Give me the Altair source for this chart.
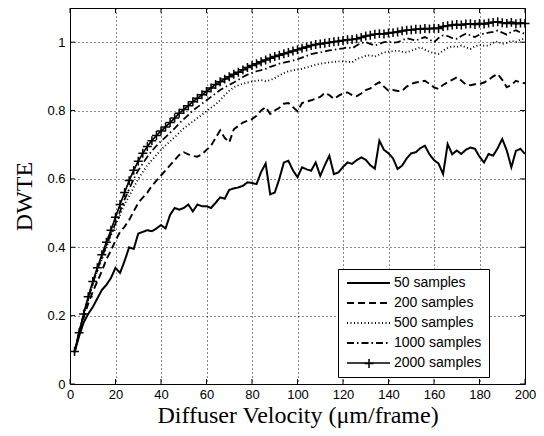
import altair as alt
import pandas as pd

velocity = list(range(2, 201, 2))

s50 = [0.092, 0.14, 0.18, 0.205, 0.225, 0.25, 0.275, 0.29, 0.31, 0.34,
       0.325, 0.36, 0.40, 0.395, 0.44, 0.445, 0.45, 0.447, 0.455, 0.465,
       0.455, 0.495, 0.515, 0.51, 0.515, 0.525, 0.505, 0.525, 0.52, 0.52,
       0.515, 0.53, 0.546, 0.542, 0.568, 0.572, 0.575, 0.58, 0.59, 0.588,
       0.585, 0.62, 0.645, 0.555, 0.56, 0.60, 0.648, 0.653, 0.625, 0.605,
       0.634, 0.628, 0.624, 0.648, 0.609, 0.64, 0.668, 0.614, 0.619, 0.635,
       0.648, 0.644, 0.655, 0.663, 0.656, 0.64, 0.63, 0.712, 0.685, 0.675,
       0.66, 0.629, 0.639, 0.66, 0.675, 0.678, 0.69, 0.697, 0.672, 0.655,
       0.645, 0.614, 0.702, 0.672, 0.683, 0.673, 0.685, 0.692, 0.688, 0.665,
       0.648, 0.673, 0.668, 0.69, 0.717, 0.683, 0.634, 0.682, 0.688, 0.673]

s200 = [0.095, 0.15, 0.195, 0.235, 0.27, 0.30, 0.33, 0.365, 0.39, 0.42,
        0.445, 0.46, 0.48, 0.505, 0.53, 0.545, 0.56, 0.58, 0.595, 0.61,
        0.625, 0.64, 0.655, 0.67, 0.678, 0.672, 0.667, 0.665, 0.672, 0.685,
        0.697, 0.72, 0.742, 0.72, 0.707, 0.745, 0.755, 0.765, 0.77, 0.775,
        0.785, 0.80, 0.81, 0.79, 0.80, 0.808, 0.82, 0.822, 0.81, 0.798,
        0.822, 0.826, 0.83, 0.835, 0.84, 0.852, 0.845, 0.834, 0.843, 0.85,
        0.853, 0.845, 0.842, 0.85, 0.86, 0.865, 0.875, 0.883, 0.87, 0.858,
        0.86, 0.857, 0.858, 0.87, 0.878, 0.882, 0.884, 0.887, 0.878, 0.868,
        0.863, 0.875, 0.883, 0.89, 0.897, 0.888, 0.876, 0.874, 0.877, 0.878,
        0.882, 0.89, 0.90, 0.907, 0.89, 0.868, 0.875, 0.887, 0.882, 0.88]

s500 = [0.095, 0.15, 0.20, 0.25, 0.29, 0.33, 0.365, 0.40, 0.435, 0.465,
        0.495, 0.525, 0.55, 0.575, 0.60, 0.62, 0.64, 0.655, 0.67, 0.685,
        0.698, 0.71, 0.722, 0.735, 0.748, 0.758, 0.768, 0.778, 0.788, 0.798,
        0.808, 0.818, 0.83, 0.845, 0.858, 0.868, 0.874, 0.878, 0.882, 0.885,
        0.887, 0.889, 0.886, 0.889, 0.895, 0.903, 0.91, 0.915, 0.918, 0.92,
        0.922, 0.926, 0.93, 0.934, 0.937, 0.939, 0.941, 0.942, 0.944, 0.944,
        0.943, 0.941, 0.951, 0.955, 0.96, 0.962, 0.958, 0.964, 0.97, 0.972,
        0.974, 0.975, 0.972, 0.97, 0.975, 0.98, 0.985, 0.978, 0.972, 0.968,
        0.966, 0.975, 0.983, 0.988, 0.986, 0.99, 0.985, 0.98, 0.988, 0.992,
        0.99, 0.99, 0.998, 1.002, 0.995, 0.998, 1.004, 1.0, 1.008, 1.01]

s1000 = [0.095, 0.15, 0.205, 0.25, 0.295, 0.335, 0.37, 0.405, 0.44, 0.47,
         0.505, 0.54, 0.57, 0.60, 0.625, 0.645, 0.665, 0.682, 0.697, 0.71,
         0.722, 0.735, 0.748, 0.762, 0.775, 0.787, 0.80, 0.81, 0.82, 0.83,
         0.84, 0.85, 0.86, 0.868, 0.875, 0.882, 0.89, 0.898, 0.905, 0.91,
         0.915, 0.918, 0.922, 0.928, 0.932, 0.937, 0.94, 0.943, 0.946, 0.95,
         0.955, 0.96, 0.965, 0.968, 0.97, 0.973, 0.976, 0.978, 0.98, 0.982,
         0.985, 0.982, 0.99, 0.998, 1.0, 0.995, 0.99, 0.995, 1.0, 1.002,
         0.998, 1.0, 1.005, 1.012, 1.008, 1.005, 1.01, 1.015, 1.008, 1.0,
         1.012, 1.02, 1.018, 1.012, 1.01, 1.018, 1.025, 1.02, 1.015, 1.022,
         1.025, 1.028, 1.03, 1.034, 1.028, 1.022, 1.03, 1.035, 1.028, 1.025]

s2000 = [0.095, 0.15, 0.205, 0.255, 0.30, 0.34, 0.378, 0.415, 0.45, 0.488,
         0.525, 0.56, 0.595, 0.625, 0.652, 0.675, 0.695, 0.712, 0.727, 0.74,
         0.752, 0.765, 0.778, 0.792, 0.803, 0.814, 0.826, 0.836, 0.846, 0.856,
         0.866, 0.876, 0.884, 0.892, 0.899, 0.906, 0.912, 0.919, 0.926, 0.932,
         0.937, 0.943, 0.948, 0.953, 0.958, 0.962, 0.966, 0.97, 0.974, 0.978,
         0.982, 0.986, 0.99, 0.993, 0.995, 0.997, 0.999, 1.001, 1.003, 1.005,
         1.007, 1.008, 1.01, 1.014, 1.018, 1.02, 1.023, 1.025, 1.024, 1.027,
         1.028, 1.03, 1.033, 1.035, 1.036, 1.038, 1.038, 1.04, 1.039, 1.041,
         1.04, 1.046, 1.048, 1.05, 1.052, 1.05, 1.053, 1.054, 1.052, 1.055,
         1.053, 1.056, 1.058, 1.06, 1.057, 1.055, 1.058, 1.054, 1.056, 1.055]

series_names = ["50 samples", "200 samples", "500 samples", "1000 samples", "2000 samples"]
series_values = [s50, s200, s500, s1000, s2000]
x_ticks = [0, 20, 40, 60, 80, 100, 120, 140, 160, 180, 200]
y_ticks = [0, 0.2, 0.4, 0.6, 0.8, 1.0]

rows = []
for name, vals in zip(series_names, series_values):
    for v, d in zip(velocity, vals):
        rows.append({"velocity": v, "dwte": d, "series": name})
df = pd.DataFrame(rows)
df["marker"] = df["series"]
xt = pd.DataFrame({"velocity": x_ticks})
yt = pd.DataFrame({"dwte": y_ticks})

W, H = 455, 376
TL = 5

xscale = alt.Scale(domain=[0, 200], nice=False, zero=False)
yscale = alt.Scale(domain=[0, 1.1], nice=False, zero=False)

xaxis = alt.Axis(values=x_ticks, title="Diffuser Velocity (μm/frame)", grid=True,
                 gridDash=[1, 3], gridColor="black", gridWidth=1, gridOpacity=0.9,
                 ticks=False, domain=False, labelFont="Liberation Sans", labelFontSize=13,
                 labelColor="black", labelPadding=4, labelFlush=False,
                 titleFont="Liberation Serif", titleFontSize=24, titleFontWeight="normal",
                 titleColor="black", titlePadding=2)
yaxis = alt.Axis(values=y_ticks, title="DWTE", grid=True, format="~g",
                 gridDash=[1, 3], gridColor="black", gridWidth=1, gridOpacity=0.9,
                 ticks=False, domain=False, labelFont="Liberation Sans", labelFontSize=13,
                 labelColor="black", labelPadding=5, labelFlush=False,
                 titleFont="Liberation Serif", titleFontSize=24, titleFontWeight="normal",
                 titleColor="black", titlePadding=10)

base_path = "M-1,0L7.6,0"
legend = alt.Legend(
    title=None, orient="none", legendX=268, legendY=261, direction="vertical",
    symbolType=base_path, symbolSize=100, symbolStrokeWidth=1.6,
    symbolStrokeColor="black", labelOffset=35, labelFont="Liberation Sans",
    labelFontSize=14, labelColor="black", padding=7, rowPadding=6,
    strokeColor="black", fillColor="white", cornerRadius=0, zindex=1,
)

plus_path = "M-1,0L1,0M0,-1L0,1"
marker_legend = alt.Legend(
    title=None, orient="none", legendX=293.5, legendY=350, direction="vertical",
    symbolSize=80, symbolStrokeWidth=1.5, symbolStrokeColor="black",
    symbolFillColor="transparent", labelExpr="''", labelFontSize=6,
    padding=0, zindex=3,
)

dashes = [[1, 0], [7, 4], [1, 2.5], [7, 3, 1.5, 3], [1, 0]]
widths = [2.0, 1.7, 1.3, 1.6, 2.0]

lines = alt.Chart(df).mark_line(color="black", clip=True).encode(
    x=alt.X("velocity:Q", scale=xscale, axis=xaxis),
    y=alt.Y("dwte:Q", scale=yscale, axis=yaxis),
    strokeDash=alt.StrokeDash("series:N", scale=alt.Scale(domain=series_names, range=dashes),
                              legend=legend),
    strokeWidth=alt.StrokeWidth("series:N", scale=alt.Scale(domain=series_names, range=widths),
                                legend=None),
)

markers = alt.Chart(df).transform_filter(
    alt.datum.series == "2000 samples"
).mark_point(size=80, filled=False, color="black", strokeWidth=1.5, opacity=1).encode(
    x=alt.X("velocity:Q", scale=xscale),
    y=alt.Y("dwte:Q", scale=yscale),
    shape=alt.Shape("marker:N", scale=alt.Scale(domain=["2000 samples"], range=[plus_path]),
                    legend=marker_legend),
)

xt_bottom = alt.Chart(xt).mark_rule(color="black", strokeWidth=1).encode(
    x=alt.X("velocity:Q", scale=xscale), y=alt.value(H), y2=alt.value(H - TL))
xt_top = alt.Chart(xt).mark_rule(color="black", strokeWidth=1).encode(
    x=alt.X("velocity:Q", scale=xscale), y=alt.value(0), y2=alt.value(TL))
yt_left = alt.Chart(yt).mark_rule(color="black", strokeWidth=1).encode(
    y=alt.Y("dwte:Q", scale=yscale), x=alt.value(0), x2=alt.value(TL))
yt_right = alt.Chart(yt).mark_rule(color="black", strokeWidth=1).encode(
    y=alt.Y("dwte:Q", scale=yscale), x=alt.value(W - TL), x2=alt.value(W))

chart = alt.layer(lines, markers, xt_bottom, xt_top, yt_left, yt_right).properties(
    width=W, height=H,
    autosize=alt.AutoSizeParams(type="none"),
    padding={"left": 62, "top": 0, "right": 11, "bottom": 52},
    background="white",
).configure_view(stroke="black", strokeWidth=1)

chart.save("out.html", embed_options={"renderer": "svg", "actions": False})
